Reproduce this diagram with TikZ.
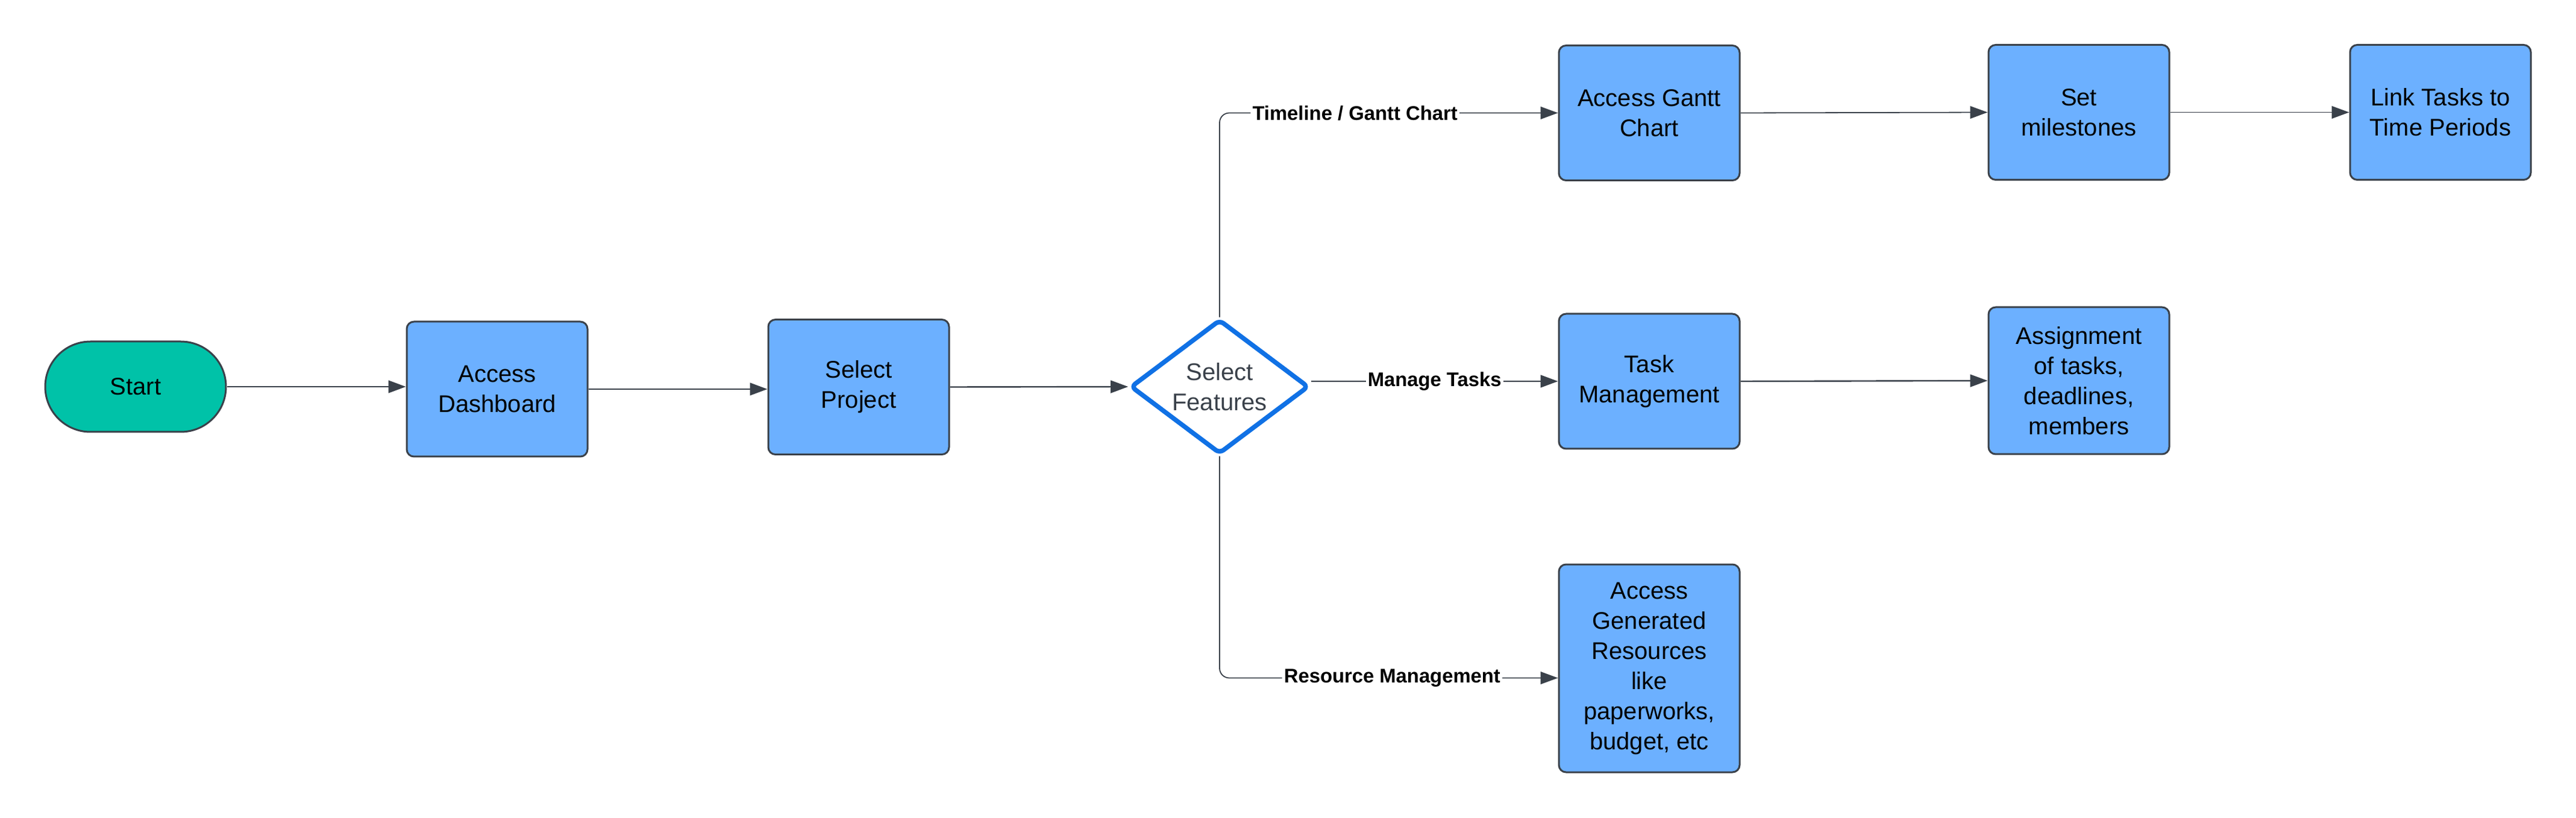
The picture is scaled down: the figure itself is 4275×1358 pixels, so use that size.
\documentclass[tikz,border=0pt]{standalone}
\usepackage{fontspec}
\setmainfont{Liberation Sans}
\usetikzlibrary{shapes.geometric,arrows.meta}

\definecolor{boxblue}{HTML}{6CB0FF}
\definecolor{startteal}{HTML}{00C2A8}
\definecolor{edgegray}{HTML}{3A414A}
\definecolor{decideblue}{HTML}{1071E5}

\tikzset{every picture/.style={line width=0.75pt}}
\tikzset{
  procbox/.style={draw=edgegray, fill=boxblue, rounded corners=3pt, minimum width=75pt, minimum height=56pt, inner sep=0pt, align=center, font=\fontsize{10}{12.5}\selectfont},
  startbox/.style={draw=edgegray, fill=startteal, rounded corners=18.75pt, minimum width=75pt, minimum height=37.5pt, inner sep=0pt, font=\fontsize{10}{12.5}\selectfont},
  decide/.style={diamond, draw=decideblue, line width=1.9pt, fill=white, rounded corners=2pt, aspect=1.33, minimum width=74pt, minimum height=55.8pt, inner sep=0pt, align=center, text=edgegray, font=\fontsize{10}{12.5}\selectfont},
  flowline/.style={draw=edgegray, line width=0.6pt, -{Triangle[length=7.25pt,width=5.2pt]}},
  thinline/.style={flowline, line width=0.45pt},
  branchlabel/.style={fill=white, inner sep=0.8pt, font=\fontsize{8.2}{10}\selectfont\bfseries}
}

\begin{document}
\begin{tikzpicture}[x=0.25pt,y=0.25pt,yscale=-1,xscale=1]
\useasboundingbox (0,0) rectangle (4275,1358);

%Shape: Terminator
\node[startbox] (start) at (225,642) {Start};
%Shape: Rectangle
\node[procbox] (dash) at (825,646) {Access\\Dashboard};
%Shape: Rectangle
\node[procbox] (proj) at (1425,642.5) {Select\\Project};
%Shape: Diamond
\node[decide] (dia) at (2024,642) {Select\\Features};

%Shape: Rectangle
\node[procbox] (gantt) at (2737,187.5) {Access Gantt\\Chart};
%Shape: Rectangle
\node[procbox] (mile) at (3450,186.5) {Set\\milestones};
%Shape: Rectangle
\node[procbox] (link) at (4050,186.5) {Link Tasks to\\Time Periods};

%Shape: Rectangle
\node[procbox] (task) at (2737,633) {Task\\Management};
%Shape: Rectangle
\node[procbox, minimum height=61pt] (assign) at (3450,632) {Assignment\\of tasks,\\deadlines,\\members};

%Shape: Rectangle
\node[procbox, minimum height=86.25pt] (res) at (2737,1109.5) {Access\\Generated\\Resources\\like\\paperworks,\\budget, etc};

%Straight Lines
\draw[flowline] (start.east) -- (start.east -| dash.west);
\draw[flowline] (dash.east) -- (dash.east -| proj.west);
\draw[flowline] (proj.east) -- (dia.west);

\draw[thinline] (gantt.east) -- (mile.west);
\draw[thinline] (mile.east) -- (link.west);
\draw[flowline] (task.east) -- (assign.west);

%Branches
\draw[thinline, rounded corners=4pt] (dia.north) |- node[branchlabel, pos=0.7] {Timeline / Gantt Chart} (gantt.west);
\draw[flowline] (task.west -| dia.east) -- node[branchlabel] {Manage Tasks} (task.west);
\draw[thinline, rounded corners=4pt] (dia.south) |- node[branchlabel, pos=0.755] {Resource Management} ([yshift=4pt]res.west);

\end{tikzpicture}
\end{document}
